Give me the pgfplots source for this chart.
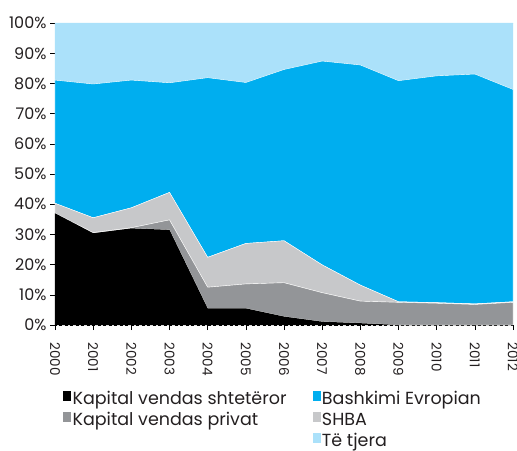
\documentclass[border=0pt]{standalone}
\usepackage{pgfplots}
\pgfplotsset{compat=1.18}
\usepackage{pgfplotstable}
\usepackage{fontspec}
\setmainfont{Poppins}
\definecolor{cblack}{HTML}{000000}
\definecolor{cdgray}{HTML}{939598}
\definecolor{clgray}{HTML}{C7C8CA}
\definecolor{cblue}{HTML}{00AEEF}
\definecolor{clblue}{HTML}{ABE1FA}
\definecolor{ctext}{HTML}{231F20}
\pgfplotstableread{
year shtet privat shba eu tjera
2000 37.0 0.0 3.3 40.8 18.9
2001 30.4 0.2 4.9 44.3 20.2
2002 32.0 0.2 6.6 42.3 18.9
2003 31.5 3.3 9.1 36.3 19.8
2004 5.5 7.0 9.9 59.5 18.1
2005 5.5 8.1 13.4 53.3 19.7
2006 2.8 11.2 13.9 56.7 15.4
2007 1.1 9.6 9.2 67.5 12.6
2008 0.6 7.3 5.3 72.9 13.9
2009 0.0 7.5 0.2 73.2 19.1
2010 0.0 7.2 0.2 75.1 17.5
2011 0.0 6.8 0.2 76.1 16.9
2012 0.0 7.5 0.2 70.3 22.0
}\data
\begin{document}
\begin{tikzpicture}
\useasboundingbox (-55bp,-126bp) rectangle (462bp,325bp);
\begin{axis}[
  at={(0,0)}, anchor=south west,
  scale only axis, width=458bp, height=302bp,
  xmin=2000, xmax=2012, ymin=0, ymax=100,
  stack plots=y,
  axis line style={draw=none},
  tick pos=left, tick align=outside,
  major tick length=5bp,
  tick style={black, line width=0.5pt},
  xtick={2000,...,2012},
  xticklabels={2000,2001,2002,2003,2004,2005,2006,2007,2008,2009,2010,2011,2012},
  xticklabel shift={9bp},
  xticklabel style={rotate=-90, anchor=west, font=\fontsize{13.5bp}{15bp}\selectfont, color=ctext},
  ytick={0,10,...,100},
  yticklabels={0\%,10\%,20\%,30\%,40\%,50\%,60\%,70\%,80\%,90\%,100\%},
  yticklabel style={font=\fontsize{16bp}{18bp}\selectfont, color=ctext},
  legend columns=2,
  legend cell align=left,
  legend style={at={(rel axis cs:0,0)}, anchor=north west, xshift=8bp, yshift=-66bp,
    draw=none, fill=none, inner sep=0pt, row sep=3bp,
    nodes={inner sep=0pt, text height=13bp, text depth=4bp, text=ctext},
    font=\fontsize{17.5bp}{20bp}\selectfont,
    /tikz/every odd column/.append style={column sep=2bp},
    /tikz/every even column/.append style={column sep=26bp}},
  legend image code/.code={\fill[#1] (0bp,0bp) rectangle (7bp,9bp);},
]
\addplot[fill=cblack, draw=none, forget plot] table[x=year,y=shtet]{\data} \closedcycle;
\addplot[fill=cdgray, draw=white, line width=0.4pt, forget plot] table[x=year,y=privat]{\data} \closedcycle;
\addplot[fill=clgray, draw=white, line width=0.4pt, forget plot] table[x=year,y=shba]{\data} \closedcycle;
\addplot[fill=cblue, draw=white, line width=0.4pt, forget plot] table[x=year,y=eu]{\data} \closedcycle;
\addplot[fill=clblue, draw=none, forget plot] table[x=year,y=tjera]{\data} \closedcycle;
\addlegendimage{cblack}\addlegendentry{Kapital vendas shtetëror}
\addlegendimage{cblue}\addlegendentry{Bashkimi Evropian}
\addlegendimage{cdgray}\addlegendentry{Kapital vendas privat}
\addlegendimage{clgray}\addlegendentry{SHBA}
\addlegendimage{empty legend}\addlegendentry{}
\addlegendimage{clblue}\addlegendentry{Të tjera}
\draw[dashed, black, line width=0.6pt, dash pattern=on 3bp off 2.5bp] (rel axis cs:1,1) -- (rel axis cs:0,1) -- (rel axis cs:0,0) -- (rel axis cs:1,0);
\end{axis}
\end{tikzpicture}
\end{document}
